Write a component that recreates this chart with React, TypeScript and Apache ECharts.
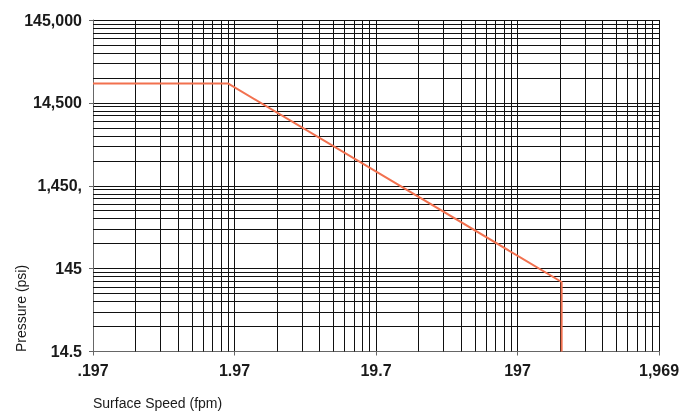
import React, { useEffect, useRef } from "react";
import * as echarts from "echarts";

// Tick labels (log decades)
const xTickLabels = [".197", "1.97", "19.7", "197", "1,969"];
const yTickLabels = ["14.5", "145", "1,450,", "14,500", "145,000"];

// Unit base of each axis (one decade start)
const xBase = 0.197; // fpm
const yBase = 14.5; // psi

// Series: surface speed (fpm) and pressure (psi)
const speedFpm = [0.197, 1.77, 404, 404];
const pressurePsi = [24900, 24900, 100, 14.5];

// Minor log grid multipliers and decade starts
const minorMultipliers = [2, 3, 4, 5, 6, 7, 8, 9];
const decadeStarts = [1, 10, 100, 1000];

const FONT = '"Liberation Sans", Arial, Helvetica, sans-serif';

export default function App() {
  const ref = useRef<HTMLDivElement>(null);

  useEffect(() => {
    document.body.style.margin = "0";
    const chart = echarts.init(ref.current!, null, { renderer: "svg" });

    const minorVals: number[] = [];
    decadeStarts.forEach((d) => minorMultipliers.forEach((m) => minorVals.push(d * m)));

    const gridLineStyle = { color: "#111", width: 1, type: "solid" as const };

    const option: any = {
      animation: false,
      grid: { left: 93, right: 23, top: 20, bottom: 60.5, containLabel: false, outerBoundsMode: "none" },
      xAxis: {
        type: "log",
        logBase: 10,
        min: 1,
        max: 10000,
        axisLine: { show: true, lineStyle: { color: "#666", width: 1 } },
        axisTick: { show: true, length: 4, lineStyle: { color: "#666" } },
        axisLabel: {
          margin: 11,
          fontSize: 16,
          fontWeight: "bold",
          fontFamily: FONT,
          color: "#1a1a1a",
          formatter: (v: number) => xTickLabels[Math.round(Math.log10(v))] ?? "",
        },
        splitLine: { show: true, lineStyle: gridLineStyle },
        minorTick: { show: false },
        minorSplitLine: { show: false },
      },
      yAxis: {
        type: "log",
        logBase: 10,
        min: 1,
        max: 10000,
        axisLine: { show: true, lineStyle: { color: "#666", width: 1 } },
        axisTick: { show: true, length: 4, lineStyle: { color: "#666" } },
        axisLabel: {
          margin: 11,
          fontSize: 16,
          fontWeight: "bold",
          fontFamily: FONT,
          color: "#1a1a1a",
          formatter: (v: number) => yTickLabels[Math.round(Math.log10(v))] ?? "",
        },
        splitLine: { show: true, lineStyle: gridLineStyle },
      },
      series: [
        {
          type: "line",
          data: [],
          silent: true,
          z: 1,
          markLine: {
            silent: true,
            symbol: ["none", "none"],
            label: { show: false },
            lineStyle: gridLineStyle,
            emphasis: { disabled: true },
            data: [
              ...minorVals.map((v) => ({ xAxis: v })),
              ...minorVals.map((v) => ({ yAxis: v })),
            ],
          },
        },
        {
          type: "line",
          z: 5,
          showSymbol: false,
          symbol: "none",
          lineStyle: { color: "#f2714f", width: 2 },
          data: speedFpm.map((s, i) => [s / xBase, pressurePsi[i] / yBase]),
        },
      ],
      graphic: [
        {
          type: "text",
          x: 93,
          y: 403,
          style: {
            text: "Surface Speed (fpm)",
            fill: "#1a1a1a",
            fontSize: 14,
            fontFamily: FONT,
            align: "left",
            verticalAlign: "middle",
            textAlign: "left",
            textVerticalAlign: "middle",
          },
        },
        {
          type: "text",
          x: 21,
          y: 352,
          rotation: Math.PI / 2,
          style: {
            text: "Pressure (psi)",
            fill: "#1a1a1a",
            fontSize: 14,
            fontFamily: FONT,
            align: "left",
            verticalAlign: "middle",
            textAlign: "left",
            textVerticalAlign: "middle",
          },
        },
      ],
    };

    chart.setOption(option);
    return () => chart.dispose();
  }, []);

  return (
    <div
      ref={ref}
      style={{ position: "fixed", left: 0, top: 0, width: 682, height: 412 }}
    />
  );
}
